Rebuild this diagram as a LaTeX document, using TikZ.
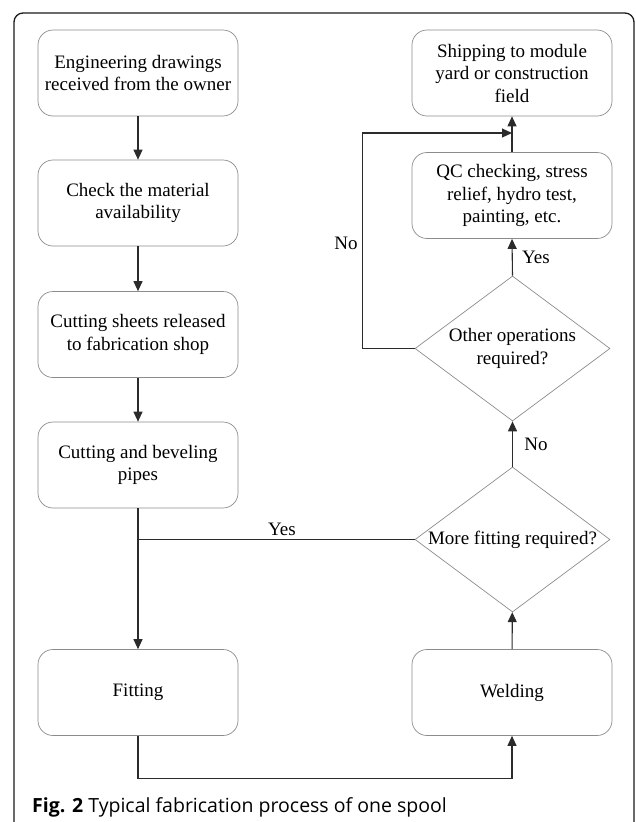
\documentclass[tikz,border=0pt]{standalone}
\usepackage{fontspec}
\setmainfont{Liberation Serif}
\newfontfamily\capfont{Open Sans}
\usetikzlibrary{arrows.meta, positioning, shapes.geometric}
\definecolor{boxline}{HTML}{8C8C8C}
\definecolor{flowline}{HTML}{2B2B2B}
\definecolor{frameline}{HTML}{1A1A1A}

\begin{document}
\begin{tikzpicture}[x=1pt, y=-1pt, >={Triangle[length=10pt, width=9pt]}]
    \tikzset{procbox/.style={draw=boxline, line width=0.7pt, rounded corners=15pt,
                             minimum width=200pt, minimum height=86pt, align=center,
                             font=\fontsize{19}{22.5}\selectfont},
             decision/.style={diamond, draw=boxline, line width=0.7pt, aspect=1.34,
                              inner sep=0pt, minimum width=195pt, minimum height=145pt,
                              align=center, font=\fontsize{19}{22.5}\selectfont},
             flow/.style={draw=flowline, line width=1.1pt},
             lbl/.style={font=\fontsize{19}{22.5}\selectfont}}

    \useasboundingbox (0,0) rectangle (635,822);
    \clip (0,0) rectangle (635,822);
    \draw[frameline, line width=1.3pt, rounded corners=9pt] (14,13) rectangle (634,840);

    % left column
    \node[procbox] (engdraw)  at (138,73)    {Engineering drawings\\received from the owner};
    \node[procbox] (matcheck) at (138,203)   {Check the material\\availability};
    \node[procbox] (cutsheet) at (138,334.5) {Cutting sheets released\\to fabrication shop};
    \node[procbox] (cutbevel) at (138,465)   {Cutting and beveling\\pipes};
    \node[procbox] (fitting)  at (138,692.5) {Fitting};

    % right column
    \node[procbox] (welding)  at (512,692.5) {Welding};
    \node[decision] (morefit) at (512.5,539.5) {More fitting required?};
    \node[decision] (otherop) at (512.5,348.5) {Other operations\\required?};
    \node[procbox] (qccheck)  at (512,195.5) {QC checking, stress\\relief, hydro test,\\painting, etc.};
    \node[procbox] (shipping) at (512,73)    {Shipping to module\\yard or construction\\field};

    \coordinate (merge) at (512,133);

    \draw[flow, ->] (engdraw) -- (matcheck);
    \draw[flow, ->] (matcheck) -- (cutsheet);
    \draw[flow, ->] (cutsheet) -- (cutbevel);
    \draw[flow, ->] (cutbevel) -- (fitting);
    \draw[flow, ->] (fitting.south) -- ++(0,43) -| (welding.south);
    \draw[flow, ->] (welding) -- (morefit);
    \draw[flow] (morefit.west) -- (cutbevel.south |- morefit.west)
        node[lbl, pos=0.48, above=0pt] (yesback) {Yes};
    \draw[flow, ->] (morefit.north) -- (otherop.south)
        node[lbl, midway, right=8pt] (nomore) {No};
    \draw[flow, ->] (otherop.north) -- (qccheck.south)
        node[lbl, midway, right=6pt] (yesother) {Yes};
    \draw[flow, ->] (otherop.west) -- ++(-52,0) |- (merge);
    \draw[flow, ->] (qccheck) -- (shipping);
    \node[lbl] (noother) at (346,243) {No};

    \node[anchor=base west, inner sep=0pt, font=\capfont\fontsize{19.5}{22}\selectfont]
        (caption) at (32,812) {\textbf{Fig. 2} Typical fabrication process of one spool};
\end{tikzpicture}
\end{document}
